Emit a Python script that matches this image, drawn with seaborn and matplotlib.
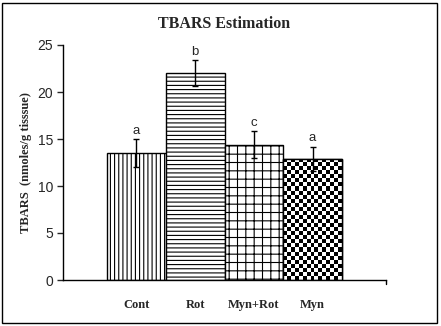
import numpy as np
import pandas as pd
import matplotlib
matplotlib.use("Agg")
import matplotlib.pyplot as plt
import seaborn as sns
from matplotlib.patches import Rectangle

groups = ["Cont", "Rot", "Myn+Rot", "Myn"]
means = [13.5, 22.0, 14.4, 12.9]
errors = [1.5, 1.4, 1.4, 1.3]
letters = ["a", "b", "c", "a"]
hatches = ["||||", "----", "++", None]

sns.set_style("white")
plt.rcParams["hatch.linewidth"] = 0.8
plt.rcParams["hatch.color"] = "black"

fig = plt.figure(figsize=(4.41, 3.26), dpi=100)
fig.patches.append(Rectangle((2/441, 3/326), 435/441, 320/326, transform=fig.transFigure,
                             fill=False, edgecolor="black", linewidth=1.0))
ax = fig.add_axes([63/441, (326-280)/326, (386-63)/441, (280-45)/326])

df = pd.DataFrame({"group": groups, "mean": means})
sns.barplot(data=df, x="group", y="mean", color="white", width=1.0, errorbar=None,
            edgecolor="black", linewidth=1.0, ax=ax)

for i, patch in enumerate(ax.patches):
    patch.set_facecolor("white")
    if hatches[i]:
        patch.set_hatch(hatches[i])
    else:
        # checkerboard fill clipped to the bar
        x0, w = patch.get_x(), patch.get_width()
        h = patch.get_height()
        nx = 15
        ny = int(round(h * 9.4 / 4.0))
        board = np.indices((ny, nx)).sum(axis=0) % 2
        im = ax.imshow(board, cmap="gray", extent=[x0, x0 + w, 0, h], aspect="auto",
                       interpolation="nearest", zorder=patch.get_zorder() + 0.1)
        im.set_clip_path(patch)
        edge = Rectangle((x0, 0), w, h, fill=False, edgecolor="black", linewidth=1.0,
                         zorder=patch.get_zorder() + 0.2)
        ax.add_patch(edge)

x = np.arange(len(groups))
ax.errorbar(x, means, yerr=errors, fmt="none", ecolor="black", elinewidth=1.0,
            capsize=2.5, capthick=1.0, zorder=5)
for xi, m, e, t in zip(x, means, errors, letters):
    ax.text(xi, m + e + 0.25, t, ha="center", va="bottom", fontsize=9.5,
            family="Liberation Sans")

ax.set_xlim(-1.25, 4.25)
ax.set_ylim(0, 25)
ax.set_yticks([0, 5, 10, 15, 20, 25])
ax.set_yticklabels([str(v) for v in [0, 5, 10, 15, 20, 25]], family="Liberation Sans", fontsize=10)
ax.set_xticks(x)
ax.set_xticklabels(groups, family="Liberation Serif", fontweight="bold", fontsize=9)
ax.tick_params(axis="x", length=0, pad=14)
ax.tick_params(axis="y", length=4, width=1, direction="out", left=True, pad=3)
ax.set_xlabel("")
ax.set_ylabel("TBARS  (nmoles/g tisssue)", family="Liberation Serif", fontweight="bold",
              fontsize=9, labelpad=4)
ax.set_title("TBARS Estimation", family="Liberation Serif", fontweight="bold", fontsize=11.5, pad=12)
for s in ["top", "right"]:
    ax.spines[s].set_visible(False)
for s in ["left", "bottom"]:
    ax.spines[s].set_color("black")
    ax.spines[s].set_linewidth(1.0)
ax.plot([4.25, 4.25], [0, -0.4], color="black", lw=1, clip_on=False)

fig.savefig("out.png", dpi=100)
